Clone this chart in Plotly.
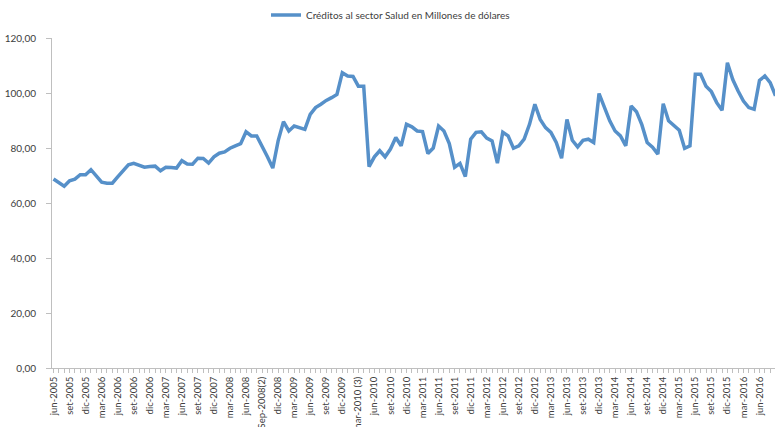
import plotly.graph_objects as go

# Monthly series, month index 0 = jun-2005
month_index = list(range(136))
creditos = [
    68.7, 67.4, 66.1, 68.1, 68.7, 70.3, 70.3, 72.1, 69.8, 67.6,
    67.2, 67.2, 69.5, 71.8, 73.9, 74.4, 73.8, 73.0, 73.3, 73.4,
    71.7, 73.0, 72.9, 72.7, 75.4, 74.2, 74.1, 76.3, 76.2, 74.5,
    76.8, 78.1, 78.6, 79.9, 80.8, 81.6, 85.9, 84.4, 84.4, 80.8,
    76.8, 72.7, 82.6, 89.6, 86.2, 88.0, 87.3, 86.8, 92.2, 94.7,
    95.9, 97.3, 98.3, 99.5, 107.4, 106.2, 106.0, 102.5, 102.5, 73.2,
    76.8, 79.0, 76.8, 79.6, 83.8, 80.8, 88.6, 87.7, 86.2, 86.0,
    78.0, 80.0, 88.0, 86.2, 81.6, 73.0, 74.4, 69.6, 83.2, 85.7,
    85.9, 83.6, 82.6, 74.5, 85.7, 84.4, 79.9, 80.8, 83.2, 88.6,
    95.9, 90.4, 87.4, 85.7, 82.0, 76.3, 90.4, 82.8, 80.4, 82.8,
    83.2, 82.0, 99.8, 94.7, 89.9, 86.2, 84.4, 80.8, 95.3, 93.2,
    88.5, 82.0, 80.3, 77.8, 96.1, 89.9, 88.0, 86.5, 79.9, 80.8,
    106.8, 106.8, 102.5, 100.5, 96.5, 93.7, 111.0, 104.9, 100.7, 97.1,
    94.7, 94.1, 104.6, 106.2, 103.8, 99.0,
]

x_tick_positions = list(range(0, 136, 3))
x_tick_labels = [
    "jun-2005", "set-2005", "dic-2005",
    "mar-2006", "jun-2006", "set-2006", "dic-2006",
    "mar-2007", "jun-2007", "set-2007", "dic-2007",
    "mar-2008", "jun-2008", "Sep-2008(2)", "dic-2008",
    "mar-2009", "jun-2009", "set-2009", "dic-2009",
    "mar-2010 (3)", "jun-2010", "set-2010", "dic-2010",
    "mar-2011", "jun-2011", "set-2011", "dic-2011",
    "mar-2012", "jun-2012", "set-2012", "dic-2012",
    "mar-2013", "jun-2013", "set-2013", "dic-2013",
    "mar-2014", "jun-2014", "set-2014", "dic-2014",
    "mar-2015", "jun-2015", "set-2015", "dic-2015",
    "mar-2016", "jun-2016", "set-2016",
]

y_tick_values = [0, 20, 40, 60, 80, 100, 120]
y_tick_labels = ["0,00", "20,00", "40,00", "60,00", "80,00", "100,00", "120,00"]

series_name = "Créditos al sector Salud en Millones de dólares"

FONT = "Lato"
AXIS_COLOR = "#BFBFBF"

fig = go.Figure()
fig.add_trace(go.Scatter(
    x=month_index, y=creditos, mode="lines", name=series_name,
    line=dict(color="#5690C9", width=3.5),
    showlegend=True,
))

fig.update_layout(
    width=775, height=427,
    margin=dict(l=52, r=0, t=38, b=59),
    paper_bgcolor="white", plot_bgcolor="white",
    font=dict(family=FONT, size=10, color="#404040"),
    showlegend=True,
    legend=dict(orientation="h", x=0.296, xanchor="left", y=1.07, yanchor="middle",
                font=dict(family=FONT, size=10, color="#404040"), itemwidth=30,
                bgcolor="rgba(0,0,0,0)"),
    xaxis=dict(
        range=[-0.28, 134.9], showgrid=False, zeroline=False,
        showline=True, linecolor=AXIS_COLOR, linewidth=1,
        tickmode="array", tickvals=x_tick_positions, ticktext=x_tick_labels,
        tickangle=-90, ticks="outside", ticklen=4, tickcolor=AXIS_COLOR,
        ticklabelstandoff=0,
        tickfont=dict(family=FONT, size=9.5, color="#404040"),
        minor=dict(dtick=1, tick0=0, ticks="outside", ticklen=4, tickcolor=AXIS_COLOR),
        automargin=False,
    ),
    yaxis=dict(
        range=[0, 120], showgrid=False, zeroline=False,
        showline=True, linecolor=AXIS_COLOR, linewidth=1,
        tickmode="array", tickvals=y_tick_values, ticktext=y_tick_labels,
        ticks="outside", ticklen=5, tickcolor=AXIS_COLOR,
        ticklabelstandoff=8,
        tickfont=dict(family=FONT, size=10, color="#404040"),
        automargin=False,
    ),
)

fig.write_html("out.html")
